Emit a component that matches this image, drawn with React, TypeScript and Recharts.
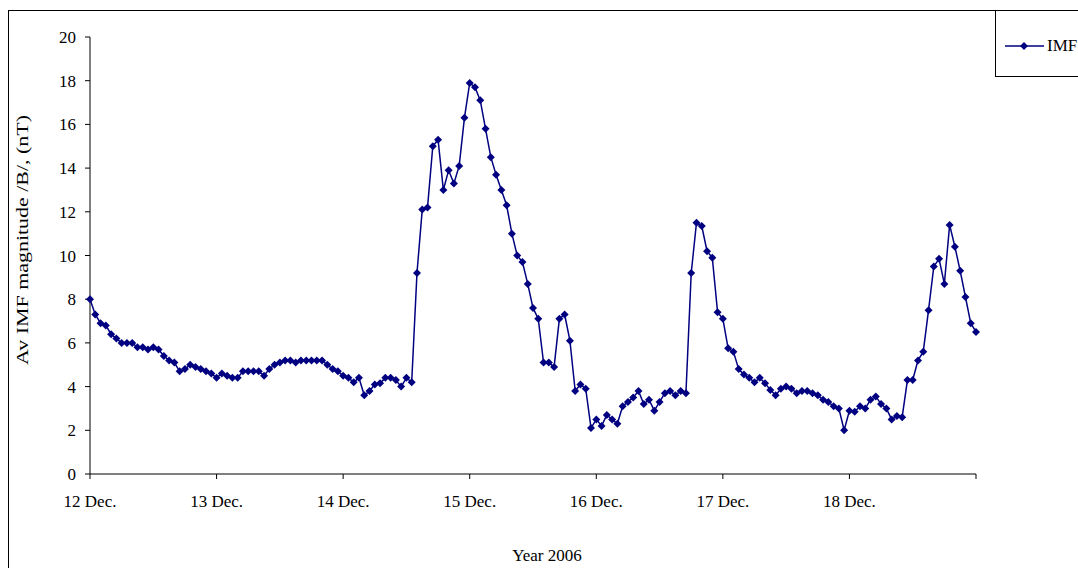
import { Legend, Line, LineChart, XAxis, YAxis } from "recharts";

const dayLabels = ["12 Dec.", "13 Dec.", "14 Dec.", "15 Dec.", "16 Dec.", "17 Dec.", "18 Dec."];
const hoursPerDay = 24;

// hourly average |B| (nT), 12 Dec 00h -> 19 Dec 00h
const imfValues = [
  8.0, 7.3, 6.9, 6.8, 6.4, 6.2, 6.0, 6.0, 6.0, 5.8,
  5.8, 5.7, 5.8, 5.7, 5.4, 5.2, 5.1, 4.7, 4.8, 5.0,
  4.9, 4.8, 4.7, 4.6, 4.4, 4.6, 4.5, 4.4, 4.4, 4.7,
  4.7, 4.7, 4.7, 4.5, 4.8, 5.0, 5.1, 5.2, 5.2, 5.1,
  5.2, 5.2, 5.2, 5.2, 5.2, 5.0, 4.8, 4.7, 4.5, 4.4,
  4.2, 4.4, 3.6, 3.8, 4.1, 4.15, 4.4, 4.4, 4.3, 4.0,
  4.4, 4.2, 9.2, 12.1, 12.2, 15.0, 15.3, 13.0, 13.9, 13.3,
  14.1, 16.3, 17.9, 17.7, 17.1, 15.8, 14.5, 13.7, 13.0, 12.3,
  11.0, 10.0, 9.7, 8.7, 7.6, 7.1, 5.1, 5.1, 4.9, 7.1,
  7.3, 6.1, 3.8, 4.1, 3.9, 2.1, 2.5, 2.2, 2.7, 2.5,
  2.3, 3.1, 3.3, 3.5, 3.8, 3.2, 3.4, 2.9, 3.3, 3.7,
  3.8, 3.6, 3.8, 3.7, 9.2, 11.5, 11.35, 10.2, 9.9, 7.4,
  7.1, 5.75, 5.6, 4.8, 4.55, 4.4, 4.2, 4.4, 4.15, 3.85,
  3.6, 3.9, 4.0, 3.9, 3.7, 3.8, 3.8, 3.7, 3.6, 3.4,
  3.3, 3.1, 3.0, 2.0, 2.9, 2.85, 3.1, 3.0, 3.4, 3.55,
  3.2, 3.0, 2.5, 2.65, 2.6, 4.3, 4.3, 5.2, 5.6, 7.5,
  9.5, 9.85, 8.7, 11.4, 10.4, 9.3, 8.1, 6.9, 6.5,
];

const yTicks = [0, 2, 4, 6, 8, 10, 12, 14, 16, 18, 20];
const seriesName = "IMF";
const yTitle = "Av IMF magnitude /B/, (nT)";
const xTitle = "Year 2006";

const chartData = imfValues.map((v, i) => ({ hour: i, imf: v }));
const xTicks = [...dayLabels.map((_, d) => d * hoursPerDay), dayLabels.length * hoursPerDay];

const NAVY = "#000080";
const FONT = "'Liberation Serif', 'Times New Roman', serif";

function Diamond(props: any) {
  const { cx, cy, index } = props;
  if (cx == null || cy == null) return null;
  const r = 4;
  return (
    <polygon
      key={`d-${index}`}
      points={`${cx},${cy - r} ${cx + r},${cy} ${cx},${cy + r} ${cx - r},${cy}`}
      fill={NAVY}
    />
  );
}

function YTitle() {
  const x = 28;
  const y = 240;
  return (
    <text
      x={x}
      y={y}
      transform={`rotate(-90, ${x}, ${y})`}
      textAnchor="middle"
      fontFamily={FONT}
      fontSize={16}
      textLength={250}
      lengthAdjust="spacingAndGlyphs"
      fill="#000"
    >
      {yTitle}
    </text>
  );
}

function XTitle(props: any) {
  const vb = props.viewBox || { x: 90, width: 886 };
  return (
    <text x={vb.x + vb.width / 2 + 14} y={561} textAnchor="middle" fontFamily={FONT} fontSize={17} fill="#000">
      {xTitle}
    </text>
  );
}

function LegendBox() {
  return (
    <div style={{ display: "flex", alignItems: "center", height: "100%", paddingLeft: 9, paddingTop: 4, boxSizing: "border-box" }}>
      <svg width={39} height={10}>
        <line x1={0} y1={5} x2={39} y2={5} stroke={NAVY} strokeWidth={1.5} />
        <polygon points="19,1 23,5 19,9 15,5" fill={NAVY} />
      </svg>
      <span style={{ marginLeft: 3, fontFamily: FONT, fontSize: 17, color: "#000", whiteSpace: "nowrap" }}>{seriesName}</span>
    </div>
  );
}

export default function App() {
  return (
    <div style={{ position: "absolute", left: 0, top: 0, width: 1078, height: 568, overflow: "hidden", background: "#fff" }}>
      <div
        style={{
          position: "absolute",
          left: 8,
          top: 10,
          width: 1200,
          height: 700,
          borderLeft: "1.5px solid #000",
          borderTop: "1.5px solid #000",
        }}
      />
      <div style={{ position: "absolute", left: 0, top: 0 }}>
        <LineChart width={1078} height={568} data={chartData} margin={{ top: 37, right: 102, bottom: 34, left: 0 }}>
          <XAxis
            dataKey="hour"
            type="number"
            domain={[0, dayLabels.length * hoursPerDay]}
            ticks={xTicks}
            tickFormatter={(v: number) => dayLabels[v / hoursPerDay] ?? ""}
            interval={0}
            height={60}
            tickSize={5}
            tickMargin={16}
            axisLine={{ stroke: "#000", strokeWidth: 1 }}
            tickLine={{ stroke: "#000" }}
            tick={{ fontSize: 17, fontFamily: FONT, fill: "#000" }}
            label={<XTitle />}
          />
          <YAxis
            type="number"
            domain={[0, 20]}
            ticks={yTicks}
            interval={0}
            width={90}
            tickSize={5}
            tickMargin={9}
            axisLine={{ stroke: "#000", strokeWidth: 1 }}
            tickLine={{ stroke: "#000" }}
            tick={{ fontSize: 17, fontFamily: FONT, fill: "#000" }}
            label={<YTitle />}
          />
          <Legend
            layout="horizontal"
            verticalAlign="middle"
            align="center"
            content={() => <LegendBox />}
            wrapperStyle={{
              left: 995,
              top: 10,
              width: 120,
              height: 67,
              border: "1.5px solid #000",
              background: "#fff",
              boxSizing: "border-box",
            }}
          />
          <Line
            type="linear"
            dataKey="imf"
            name={seriesName}
            stroke={NAVY}
            strokeWidth={1.5}
            dot={Diamond}
            activeDot={false}
            isAnimationActive={false}
          />
        </LineChart>
      </div>
    </div>
  );
}
